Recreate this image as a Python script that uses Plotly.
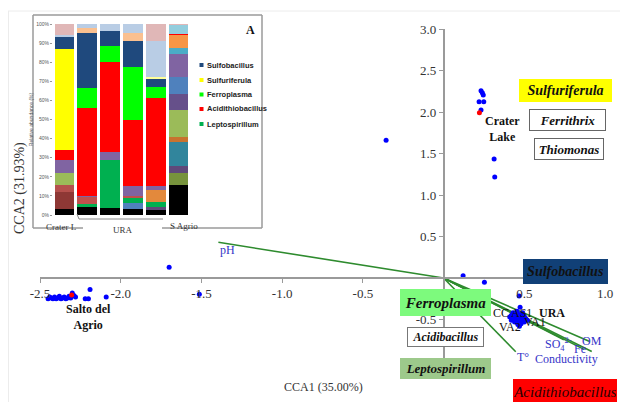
import plotly.graph_objects as go

# page body has an 8 px margin; the figure is sized to the remaining area
OFF = 8
W, H = 628 - OFF, 402 - OFF

# ---------------- CCA biplot data ----------------
# sample (site) scores, blue dots
site_x = [0.232, 0.240, 0.246, 0.220, 0.249, 0.232, 0.313, 0.317,
          -0.356, -1.700, -1.513, 0.121, 0.253, 0.468, 0.474,
          0.41, 0.42, 0.43, 0.44, 0.45, 0.46, 0.47, 0.48, 0.49, 0.50,
          0.45, 0.47, 0.44, 0.48, 0.51, 0.43, 0.46, 0.50, 0.52, 0.42,
          0.49, 0.455, 0.47, 0.435, 0.465,
          -2.45, -2.43, -2.42, -2.41, -2.40, -2.39, -2.38, -2.37, -2.36,
          -2.35, -2.34, -2.33, -2.32, -2.31, -2.30, -2.29, -2.28, -2.19,
          -2.22, -2.20, -2.09, -2.44, -2.385]
site_y = [2.257, 2.233, 2.205, 2.124, 2.124, 2.024, 1.434, 1.217,
          1.659, 0.129, -0.196, 0.028, -0.052, -0.217, -0.353,
          -0.47, -0.45, -0.49, -0.46, -0.50, -0.48, -0.52, -0.47, -0.50, -0.53,
          -0.43, -0.44, -0.53, -0.55, -0.49, -0.42, -0.56, -0.46, -0.51, -0.51,
          -0.42, -0.40, -0.58, -0.48, -0.45,
          -0.25, -0.24, -0.25, -0.23, -0.25, -0.24, -0.22, -0.25, -0.24,
          -0.23, -0.25, -0.24, -0.22, -0.24, -0.18, -0.21, -0.23, -0.14,
          -0.25, -0.25, -0.23, -0.23, -0.235]
# highlighted samples, red dots
red_x = [0.222, -2.304]
red_y = [1.992, -0.205]

# environmental vectors (arrow tips)
env_names = ["pH", "T°", "SO4", "OM", "Fe", "Conductivity"]
env_x = [-1.395, 0.447, 0.745, 0.905, 0.918, 0.87]
env_y = [0.430, -0.888, -0.745, -0.765, -0.885, -0.86]

x_ticks = [-2.5, -2.0, -1.5, -1.0, -0.5, 0.5, 1.0]
y_ticks = [3.0, 2.5, 2.0, 1.5, 1.0, 0.5, -0.5]
x_range = [-2.5, 1.0]
y_range = [-1.0, 3.0]

# ---------------- inset: relative abundance (%) ----------------
inset_bars = ["Crater L", "URA 1", "URA 2", "URA 3", "URA 4", "S Agrio"]
crater_l_pct = [3, 9, 3.5, 6.5, 7, 5, 53, 6.5, 0.5, 6]
crater_l_col = ["blk", "dred", "lred", "oliv", "purp", "red", "yel", "navy", "lblu", "pink"]
ura1_pct = [4.5, 1, 4, 0.5, 46, 10.5, 29, 2.5, 2]
ura1_col = ["blk", "grn", "rbrn", "purp", "red", "bgrn", "navy", "peach", "lblu"]
ura2_pct = [3.5, 25.5, 4, 47, 8.5, 8, 3.5]
ura2_col = ["blk", "grn", "purp", "red", "bgrn", "navy", "lblu"]
ura3_pct = [3, 3.5, 2.5, 1, 5, 35, 27.5, 13.5, 4.5, 4.5]
ura3_col = ["blk", "blue", "grn", "rbrn", "purp", "red", "bgrn", "navy", "peach", "lblu"]
ura4_pct = [2.5, 1.5, 3, 6, 2, 46, 6, 4.5, 0.5, 19, 9]
ura4_col = ["blk", "dpur", "grn", "oran", "purp", "red", "bgrn", "navy", "lyel", "lblu", "pink"]
sagrio_pct = [15.5, 6.5, 3.5, 12.5, 3, 14, 8.5, 8.5, 12.5, 3, 7, 0.5, 4.5, 0.5]
sagrio_col = ["blk", "doliv", "dpur", "teal", "obrn", "oliv", "dpur2", "blue", "purp",
              "lteal", "oran2", "red", "lcyan", "pink"]

legend_taxa = ["Sulfobacillus", "Sulfuriferula", "Ferroplasma", "Acidithiobacillus", "Leptospirillum"]
legend_keys = ["navy", "yel", "bgrn", "red", "grn"]

palette = {
    "blk": "#000000", "dred": "#8E3835", "lred": "#B5504C", "oliv": "#9BBB59",
    "purp": "#8064A2", "red": "#FF0000", "yel": "#FFFF00", "navy": "#1F497D",
    "lblu": "#B9CDE5", "pink": "#E0B7B7", "grn": "#00B050", "rbrn": "#C0504D",
    "bgrn": "#00FF00", "peach": "#FAC090", "blue": "#4F81BD", "dpur": "#5F497A",
    "oran": "#E3893C", "lyel": "#FFFF99", "doliv": "#77933C", "teal": "#31859C",
    "obrn": "#C8732F", "dpur2": "#66508A", "lteal": "#4BACC6", "oran2": "#F79646",
    "lcyan": "#93CDDD",
}

bars_pct = [crater_l_pct, ura1_pct, ura2_pct, ura3_pct, ura4_pct, sagrio_pct]
bars_col = [crater_l_col, ura1_col, ura2_col, ura3_col, ura4_col, sagrio_col]

# ---------------- geometry helpers (screen pixels -> paper) ----------------
def px(x):
    return (x - OFF) / W

def py(y):
    return 1 - (y - OFF) / H

main_left, main_right, main_top, main_bottom = 40, 605, 29, 361
xdom = [px(main_left), px(main_right)]
ydom = [py(main_bottom), py(main_top)]
# axes cross at data origin
x0_paper = xdom[0] + (0 - x_range[0]) / (x_range[1] - x_range[0]) * (xdom[1] - xdom[0])
y0_paper = ydom[0] + (0 - y_range[0]) / (y_range[1] - y_range[0]) * (ydom[1] - ydom[0])

SERIF = "Liberation Serif"
fig = go.Figure()

# environmental vectors
for name, ex, ey in zip(env_names, env_x, env_y):
    fig.add_trace(go.Scatter(x=[0, ex], y=[0, ey], mode="lines",
                             line=dict(color="#2E8B2E", width=1.6),
                             hoverinfo="skip", showlegend=False))

fig.add_trace(go.Scatter(x=site_x, y=site_y, mode="markers",
                         marker=dict(color="#0000FF", size=5),
                         showlegend=False))
fig.add_trace(go.Scatter(x=red_x, y=red_y, mode="markers",
                         marker=dict(color="#FF0000", size=5),
                         showlegend=False))

# inset stacked bars, one trace per stacking layer
n_layers = max(len(b) for b in bars_pct)
for k in range(n_layers):
    yv = [b[k] if k < len(b) else 0 for b in bars_pct]
    cv = [palette[c[k]] if k < len(c) else "#FFFFFF" for c in bars_col]
    fig.add_trace(go.Bar(x=inset_bars, y=yv, marker=dict(color=cv, line=dict(width=0)),
                         xaxis="x2", yaxis="y2", showlegend=False, hoverinfo="skip"))

fig.update_layout(
    width=W, height=H,
    margin=dict(l=0, r=0, t=0, b=0, pad=0, autoexpand=False),
    paper_bgcolor="white", plot_bgcolor="rgba(0,0,0,0)",
    barmode="stack", bargap=0.14,
    xaxis=dict(domain=xdom, range=x_range, anchor="free", position=y0_paper,
               showgrid=False, zeroline=False, showline=True, linecolor="#9a9a9a",
               linewidth=1.5, ticks="outside", ticklen=4, tickcolor="#9a9a9a",
               tickvals=x_ticks, ticktext=[f"{v:.1f}" for v in x_ticks],
               tickfont=dict(family=SERIF, size=13, color="#333333"), automargin=False),
    yaxis=dict(domain=ydom, range=y_range, anchor="free", position=x0_paper,
               showgrid=False, zeroline=False, showline=True, linecolor="#9a9a9a",
               linewidth=1.5, ticks="outside", ticklen=4, tickcolor="#9a9a9a",
               tickvals=y_ticks, ticktext=[f"{v:.1f}" for v in y_ticks],
               tickfont=dict(family=SERIF, size=13, color="#333333"), automargin=False),
    xaxis2=dict(domain=[px(53), px(190)], anchor="y2", showticklabels=False,
                showgrid=False, zeroline=False, showline=False, ticks="", automargin=False),
    yaxis2=dict(domain=[py(215), py(24)], anchor="x2", range=[0, 100],
                showgrid=False, zeroline=False, showline=False,
                ticks="outside", ticklen=2, tickcolor="#999999", automargin=False,
                tickvals=list(range(0, 101, 10)),
                ticktext=[f"{v}%" for v in range(0, 101, 10)],
                tickfont=dict(family="Liberation Sans", size=5, color="#555555"),
                title=dict(text="Relative abundance (%)", standoff=2,
                           font=dict(family="Liberation Sans", size=5, color="#555555"))),
)

shapes = []
# faint page frame
shapes.append(dict(type="line", xref="paper", yref="paper", x0=px(8), x1=px(628), y0=py(11), y1=py(11),
                   line=dict(color="#ececec", width=1)))
shapes.append(dict(type="line", xref="paper", yref="paper", x0=px(8.5), x1=px(8.5), y0=py(11), y1=py(402),
                   line=dict(color="#ececec", width=1)))
# inset frame (gap at bottom for URA label)
frame = [(33, 15, 262, 15), (33, 15, 33, 228), (262, 15, 262, 228), (33, 228, 83, 228), (162, 228, 262, 228)]
for (a, b, c, d) in frame:
    shapes.append(dict(type="line", xref="paper", yref="paper", x0=px(a), y0=py(b), x1=px(c), y1=py(d),
                       line=dict(color="#9a9a9a", width=1.5)))
# URA bracket
shapes.append(dict(type="path", xref="paper", yref="paper",
                   path=f"M {px(77)} {py(214)} L {px(79)} {py(219)} L {px(163)} {py(219)}",
                   line=dict(color="#8a8a8a", width=1)))
# inset legend swatches
leg_y = [65, 80, 94.5, 109, 124]
for yy, key in zip(leg_y, legend_keys):
    shapes.append(dict(type="rect", xref="paper", yref="paper", x0=px(199.5), x1=px(203.5),
                       y0=py(yy + 2), y1=py(yy - 2), fillcolor=palette[key], line=dict(width=0)))
fig.update_layout(shapes=shapes)

ann = []

def label(text, x, y, size=12, color="#111111", family=SERIF, xanchor="center", **kw):
    ann.append(dict(text=text, x=px(x), y=py(y), xref="paper", yref="paper", showarrow=False,
                    xanchor=xanchor, yanchor="middle",
                    font=dict(family=family, size=size, color=color), **kw))

def box(text, x, y, w, h, fill, size=14, border=None, color="#111111", bold=True):
    t = f"<i>{text}</i>"
    if bold:
        t = f"<b>{t}</b>"
    ann.append(dict(text=t, x=px(x), y=py(y), xref="paper", yref="paper", showarrow=False,
                    xanchor="center", yanchor="middle",
                    width=w, height=h, bgcolor=fill, borderpad=0,
                    bordercolor=border if border else fill, borderwidth=1,
                    font=dict(family=SERIF, size=size, color=color)))

# taxon boxes
box("Sulfuriferula", 565, 90.5, 91, 21, "#FFFF00", size=14)
box("Ferrithrix", 567.5, 120, 75, 20, "white", size=13, border="#666666")
box("Thiomonas", 568.5, 149, 68, 20, "white", size=13, border="#666666")
box("Sulfobacillus", 565, 271, 83, 23, "#114077", size=14, border="#114077")
box("Ferroplasma", 445, 302.5, 89, 25, "#7DFA7D", size=15, border="#7DFA7D")
box("Acidibacillus", 445, 337, 75, 18, "white", size=12, border="#777777")
box("Leptospirillum", 445, 368, 89, 19, "#9DC98B", size=13, border="#9DC98B")
box("Acidithiobacillus", 564.5, 392, 102, 24, "#FF0000", size=15, color="#2a0000", bold=False)

# group labels
label("<b>Crater<br>Lake</b>", 502, 129, size=12)
label("<b>Salto del<br>Agrio</b>", 88, 317, size=12)
label("<b>URA</b>", 552, 312.5, size=12)
label("CC", 501, 312.5, size=12)
label("AS1", 521, 312.5, size=12)
label("VA2", 510, 326.5, size=12)
label("VA1", 535, 321.5, size=12)

# environmental labels
ENV = "#3535C8"
label("pH", 227, 250, size=12, color=ENV)
label("T°", 523, 357, size=12, color=ENV)
label("SO<sub>4</sub><sup>2-</sup>", 558, 344, size=12, color=ENV)
label("OM", 592, 340.5, size=12, color=ENV)
label("Fe", 580, 349, size=12, color=ENV)
label("Conductivity", 566, 358.5, size=12, color=ENV)

# axis titles and panel letters
label("CCA1 (35.00%)", 323.5, 386.5, size=12, color="#333333")
label("CCA2 (31.93%)", 20, 188, size=14, color="#333333", textangle=-90)
label("<b>B</b>", 621, 26, size=14, xanchor="left")
label("<b>A</b>", 250, 30, size=12)

# inset labels
label("Crater L", 61, 227, size=9, color="#333333")
label("URA", 123, 230, size=9, color="#333333")
label("S Agrio", 184, 226, size=9, color="#333333")
for yy, name in zip(leg_y, legend_taxa):
    label(f"<b>{name}</b>", 205, yy, size=7.5, color="#222222", family="Liberation Sans", xanchor="left")

fig.update_layout(annotations=ann)
fig.write_html("out.html")
